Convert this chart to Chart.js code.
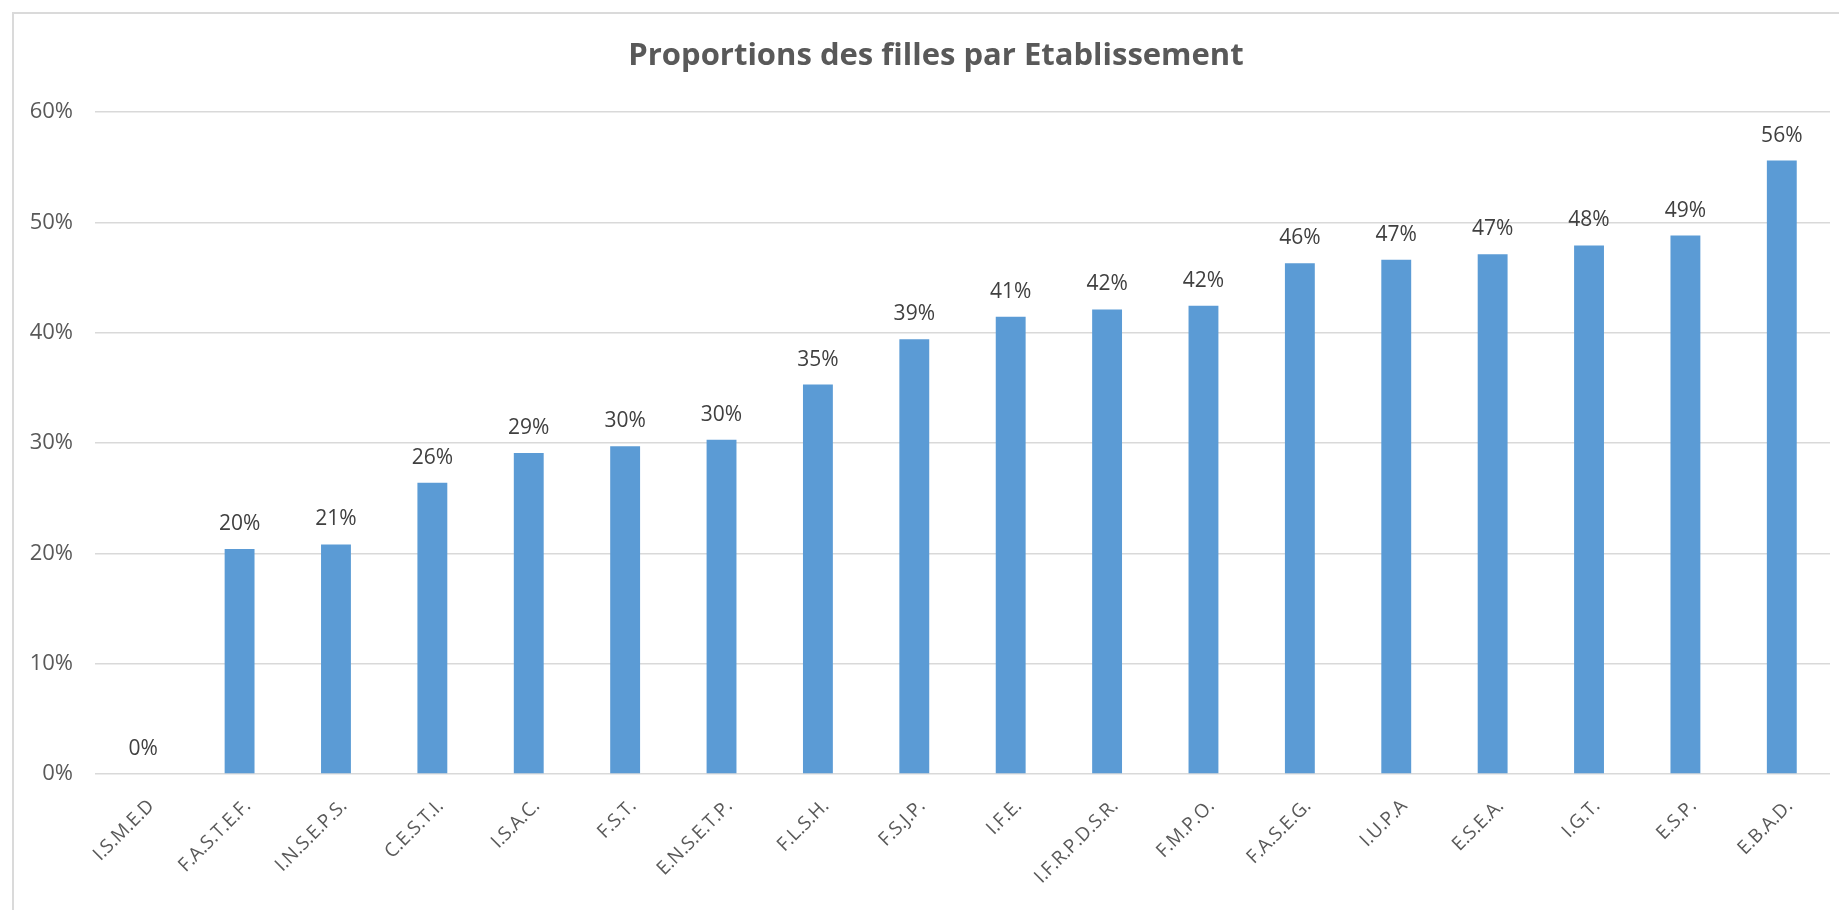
<!DOCTYPE html>
<html>
<head>
<meta charset="utf-8">
<script src="https://cdn.jsdelivr.net/npm/chart.js@4/dist/chart.umd.min.js"></script>
<style>
  html, body { margin: 0; padding: 0; background: #ffffff; }
  #wrap { position: relative; width: 1839px; height: 910px; overflow: hidden; }
  #frame { position: absolute; left: 12px; top: 12px; width: 1900px; height: 1000px;
           border-top: 2px solid #DADADA; border-left: 2px solid #DADADA; }
  #box { position: absolute; left: 0; top: 0; width: 1839px; height: 910px; }
</style>
</head>
<body>
<div id="wrap">
  <div id="frame"></div>
  <div id="box"><canvas id="c"></canvas></div>
</div>
<script>
const titleText = "Proportions des filles par Etablissement";
const categories = ["I.S.M.E.D", "F.A.S.T.E.F.", "I.N.S.E.P.S.", "C.E.S.T.I.", "I.S.A.C.", "F.S.T.",
  "E.N.S.E.T.P.", "F.L.S.H.", "F.S.J.P.", "I.F.E.", "I.F.R.P.D.S.R.", "F.M.P.O.",
  "F.A.S.E.G.", "I.U.P.A", "E.S.E.A.", "I.G.T.", "E.S.P.", "E.B.A.D."];
const proportions = [0, 20.4, 20.8, 26.4, 29.1, 29.7, 30.3, 35.3, 39.4, 41.45, 42.1, 42.45,
  46.3, 46.6, 47.1, 47.9, 48.8, 55.6];
const yTicks = [0, 10, 20, 30, 40, 50, 60];

const FONT = "'Open Sans', 'Noto Sans', sans-serif";

const dataLabels = {
  id: 'dataLabels',
  afterDatasetsDraw(chart) {
    const ctx = chart.ctx;
    const meta = chart.getDatasetMeta(0);
    ctx.save();
    ctx.font = "21px " + FONT;
    ctx.fillStyle = "#404040";
    ctx.textAlign = "center";
    ctx.textBaseline = "middle";
    meta.data.forEach((bar, i) => {
      ctx.fillText(Math.round(proportions[i]) + "%", bar.x, bar.y - 25);
    });
    ctx.restore();
  }
};

// let the narrow y axis draw its labels past its own left edge (no clipping)
const noYClip = {
  id: 'noYClip',
  afterLayout(chart) {
    const s = chart.scales.y;
    if (s) s._computeLabelArea = function () { return undefined; };
  }
};

new Chart(document.getElementById('c'), {
  type: 'bar',
  data: {
    labels: categories,
    datasets: [{
      data: proportions,
      backgroundColor: '#5B9BD5',
      borderWidth: 0,
      categoryPercentage: 1.0,
      barPercentage: 0.31
    }]
  },
  options: {
    responsive: true,
    maintainAspectRatio: false,
    animation: false,
    layout: { padding: { left: 42, right: 9, top: 0, bottom: 0 } },
    plugins: {
      legend: { display: false },
      tooltip: { enabled: false },
      title: {
        display: true,
        text: titleText,
        color: '#595959',
        font: { family: FONT, size: 31, weight: 'bold', lineHeight: 1.2 },
        padding: { top: 38, bottom: 36.8 }
      }
    },
    scales: {
      x: {
        grid: { display: false, drawTicks: false },
        border: { display: false },
        ticks: {
          autoSkip: false,
          maxRotation: 45,
          minRotation: 45,
          padding: 21,
          labelOffset: 8,
          color: '#595959',
          font: { family: FONT, size: 19 }
        },
        afterFit(scale) { scale.height = 136; }
      },
      y: {
        min: 0,
        max: 60,
        afterBuildTicks(scale) { scale.ticks = yTicks.map(v => ({ value: v })); },
        grid: { color: '#D9D9D9', lineWidth: 1.5, drawTicks: false },
        border: { display: false },
        ticks: {
          padding: 22,
          color: '#595959',
          font: { family: FONT, size: 22 },
          callback: (v) => v + '%'
        },
        afterFit(scale) { scale.width = 53; }
      }
    }
  },
  plugins: [dataLabels, noYClip]
});
</script>
</body>
</html>
